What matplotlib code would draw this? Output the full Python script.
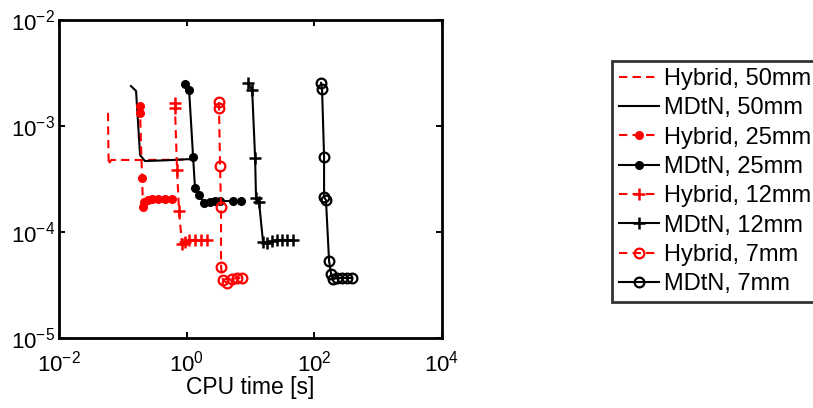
import matplotlib
matplotlib.use("Agg")
import matplotlib.pyplot as plt

plt.rcParams['font.family'] = ['Liberation Sans', 'DejaVu Sans']
plt.rcParams['mathtext.fontset'] = 'custom'
plt.rcParams['mathtext.rm'] = 'Liberation Sans'
plt.rcParams['mathtext.it'] = 'Liberation Sans'

# CPU time [s] and error for every run
hyb50_t = [0.0586, 0.0590, 0.0600, 0.0630, 0.0660, 0.20, 0.60, 1.20]
hyb50_e = [1.33e-3, 8.0e-4, 4.28e-4, 4.6e-4, 4.78e-4, 4.78e-4, 4.8e-4, 4.85e-4]

mdtn50_t = [0.134, 0.161, 0.186, 0.222, 0.50, 1.26]
mdtn50_e = [2.38e-3, 2.14e-3, 5.32e-4, 4.67e-4, 4.75e-4, 4.89e-4]

hyb25_t = [0.186, 0.186, 0.200, 0.207, 0.215, 0.248, 0.286, 0.356, 0.458, 0.589]
hyb25_e = [1.55e-3, 1.33e-3, 3.23e-4, 1.72e-4, 1.92e-4, 2.0e-4, 2.05e-4, 2.05e-4, 2.05e-4, 2.05e-4]

mdtn25_t = [0.942, 1.09, 1.26, 1.35, 1.56, 1.87, 2.32, 2.78, 3.33, 5.32, 7.1]
mdtn25_e = [2.49e-3, 2.19e-3, 5.1e-4, 2.6e-4, 2.23e-4, 1.88e-4, 1.92e-4, 1.96e-4, 1.96e-4, 1.96e-4, 1.96e-4]

hyb12_t = [0.656, 0.656, 0.706, 0.759, 0.845, 0.942, 1.09, 1.35, 1.68, 2.08]
hyb12_e = [1.65e-3, 1.48e-3, 3.84e-4, 1.58e-4, 7.7e-5, 8.05e-5, 8.4e-5, 8.4e-5, 8.4e-5, 8.4e-5]

mdtn12_t = [9.14, 10.6, 11.8, 12.2, 13.6, 15.7, 18.1, 21.7, 26.0, 31.2, 37.3, 46.3]
mdtn12_e = [2.55e-3, 2.19e-3, 4.99e-4, 2.09e-4, 1.92e-4, 8.05e-5, 7.87e-5, 8.2e-5, 8.4e-5, 8.4e-5, 8.4e-5, 8.4e-5]

hyb7_t = [3.21, 3.21, 3.33, 3.45, 3.45, 3.71, 4.29, 5.13, 6.15, 7.36]
hyb7_e = [1.68e-3, 1.48e-3, 4.2e-4, 1.72e-4, 4.68e-5, 3.52e-5, 3.3e-5, 3.6e-5, 3.68e-5, 3.68e-5]

mdtn7_t = [127, 132, 142, 142, 152, 170, 183, 196, 227, 271, 325, 389]
mdtn7_e = [2.55e-3, 2.24e-3, 5.1e-4, 2.14e-4, 2.0e-4, 5.32e-5, 4.02e-5, 3.6e-5, 3.68e-5, 3.68e-5, 3.68e-5, 3.68e-5]

fig = plt.figure(figsize=(8.13, 4.08), dpi=100)
ax = fig.add_axes([0.0726, 0.1716, 0.4711, 0.7794])

lw = 1.5
red = '#ff0000'
dash = (4, 2.5)
ax.plot(hyb50_t, hyb50_e, '--', dashes=dash, color=red, lw=lw, label='Hybrid, 50mm')
ax.plot(mdtn50_t, mdtn50_e, '-', color='k', lw=lw, label='MDtN, 50mm')
ax.plot(hyb25_t, hyb25_e, '--', dashes=dash, color=red, lw=lw, marker='o', ms=5.5, label='Hybrid, 25mm')
ax.plot(mdtn25_t, mdtn25_e, '-', color='k', lw=lw, marker='o', ms=5.5, label='MDtN, 25mm')
ax.plot(hyb12_t, hyb12_e, '--', dashes=dash, color=red, lw=lw, marker='+', ms=8, mew=1.8, label='Hybrid, 12mm')
ax.plot(mdtn12_t, mdtn12_e, '-', color='k', lw=lw, marker='+', ms=8, mew=1.8, label='MDtN, 12mm')
ax.plot(hyb7_t, hyb7_e, '--', dashes=dash, color=red, lw=lw, marker='o', ms=7, mfc='none', mew=1.6, label='Hybrid, 7mm')
ax.plot(mdtn7_t, mdtn7_e, '-', color='k', lw=lw, marker='o', ms=7, mfc='none', mew=1.6, label='MDtN, 7mm')

ax.set_xscale('log')
ax.set_yscale('log')
ax.set_xlim(1e-2, 1e4)
ax.set_ylim(1e-5, 1e-2)
ax.set_xticks([1e-2, 1e0, 1e2, 1e4])
ax.set_yticks([1e-5, 1e-4, 1e-3, 1e-2])
ax.minorticks_off()
ax.tick_params(which='both', direction='in', top=True, right=True, labelsize=16,
               length=4, width=1.4)
ax.tick_params(axis='y', pad=3)
ax.tick_params(axis='x', pad=9)
for s in ax.spines.values():
    s.set_linewidth(2)
ax.set_xlabel('CPU time [s]', fontsize=16.5, labelpad=0)

leg = fig.legend(loc='upper left', bbox_to_anchor=(612 / 813, 1 - 61 / 408),
                 fontsize=17, numpoints=1, handlelength=1.7, handletextpad=0.2,
                 labelspacing=0.31, borderpad=0.3, borderaxespad=0,
                 fancybox=False, frameon=True)
leg.get_frame().set_edgecolor('k')
leg.get_frame().set_linewidth(2)

fig.savefig('out.png', dpi=100)
